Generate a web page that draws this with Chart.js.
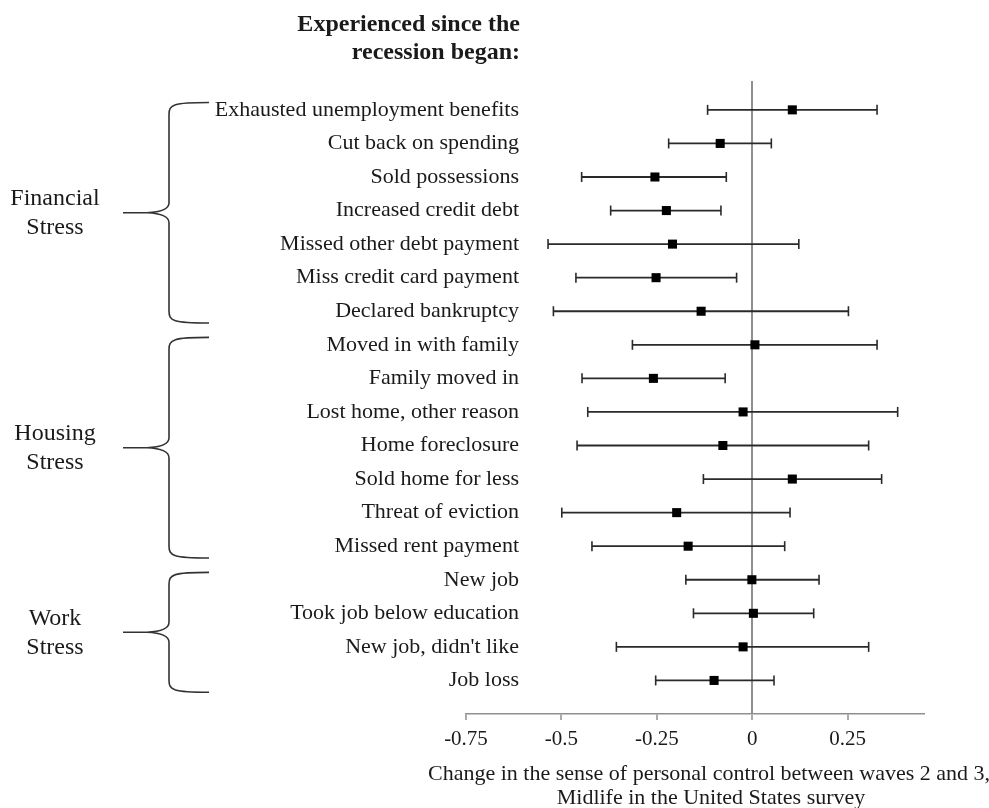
<!DOCTYPE html>
<html>
<head>
<meta charset="utf-8">
<script src="https://cdn.jsdelivr.net/npm/chart.js@4.4.1/dist/chart.umd.min.js"></script>
<style>
  html, body { margin: 0; padding: 0; background: #fff; }
  canvas { display: block; }
</style>
</head>
<body>
<canvas id="chart" width="989" height="808"></canvas>
<script>
const events = [
  'Exhausted unemployment benefits',
  'Cut back on spending',
  'Sold possessions',
  'Increased credit debt',
  'Missed other debt payment',
  'Miss credit card payment',
  'Declared bankruptcy',
  'Moved in with family',
  'Family moved in',
  'Lost home, other reason',
  'Home foreclosure',
  'Sold home for less',
  'Threat of eviction',
  'Missed rent payment',
  'New job',
  'Took job below education',
  "New job, didn't like",
  'Job loss',
];

const estimate = [0.105, -0.084, -0.255, -0.225, -0.209, -0.252, -0.134,
  0.007, -0.259, -0.024, -0.077, 0.105, -0.198, -0.168,
  -0.001, 0.003, -0.024, -0.100];
const lower = [-0.117, -0.219, -0.447, -0.371, -0.535, -0.462, -0.521,
  -0.314, -0.446, -0.431, -0.459, -0.128, -0.499, -0.420,
  -0.174, -0.154, -0.356, -0.253];
const upper = [0.327, 0.050, -0.068, -0.082, 0.122, -0.041, 0.252,
  0.327, -0.071, 0.381, 0.305, 0.339, 0.099, 0.085,
  0.175, 0.161, 0.305, 0.057];

const xTicks = [-0.75, -0.5, -0.25, 0, 0.25];

const groups = [
  { name: ['Financial', 'Stress'], first: 0, last: 6 },
  { name: ['Housing', 'Stress'], first: 7, last: 13 },
  { name: ['Work', 'Stress'], first: 14, last: 17 },
];

const SERIF = '"Liberation Serif", "Times New Roman", serif';
const INK = '#1a1a1a';
const AXIS_GREY = '#8f8f8f';

// one line dataset with a gap after each interval, caps drawn as rotated line points
const intervalPoints = [];
events.forEach((_, i) => {
  intervalPoints.push({ x: lower[i], y: i + 1 });
  intervalPoints.push({ x: upper[i], y: i + 1 });
  intervalPoints.push({ x: 0, y: null });
});

const meanPoints = estimate.map((v, i) => ({ x: v, y: i + 1 }));

const annotations = {
  id: 'annotations',
  afterDraw(chart) {
    const { ctx, scales: { y } } = chart;
    ctx.save();
    ctx.fillStyle = INK;

    // header above the labels
    ctx.font = 'bold 24px ' + SERIF;
    ctx.textAlign = 'right';
    ctx.textBaseline = 'middle';
    ctx.fillText('Experienced since the', 520, 25);
    ctx.fillText('recession began:', 520, 53);

    // braces and group names
    ctx.strokeStyle = '#333';
    ctx.lineWidth = 1.6;
    groups.forEach((g) => {
      const top = y.getPixelForValue(g.first + 1 - 0.22);
      const bottom = y.getPixelForValue(g.last + 1 + 0.35);
      const mid = (top + bottom) / 2;
      const vx = 169;
      const endX = 209;
      const tipX = 123;
      ctx.beginPath();
      ctx.moveTo(endX, top);
      ctx.bezierCurveTo(vx + 4, top, vx, top + 2, vx, top + 12);
      ctx.lineTo(vx, mid - 10);
      ctx.quadraticCurveTo(vx, mid - 1, vx - 22, mid);
      ctx.lineTo(tipX, mid);
      ctx.moveTo(tipX, mid);
      ctx.lineTo(vx - 22, mid);
      ctx.quadraticCurveTo(vx, mid + 1, vx, mid + 10);
      ctx.lineTo(vx, bottom - 12);
      ctx.bezierCurveTo(vx, bottom - 2, vx + 4, bottom, endX, bottom);
      ctx.stroke();

      ctx.font = '24px ' + SERIF;
      ctx.textAlign = 'center';
      ctx.fillText(g.name[0], 55, mid - 14);
      ctx.fillText(g.name[1], 55, mid + 15);
    });

    // x axis title
    ctx.font = '22px ' + SERIF;
    ctx.textAlign = 'center';
    ctx.fillText('Change in the sense of personal control between waves 2 and 3,', 709, 774);
    ctx.fillText('Midlife in the United States survey', 711, 798);
    ctx.restore();
  },
};

new Chart(document.getElementById('chart'), {
  type: 'scatter',
  data: {
    datasets: [
      {
        data: meanPoints,
        pointStyle: 'rect',
        radius: 6.4,
        backgroundColor: '#000',
        borderWidth: 0,
      },
      {
        data: intervalPoints,
        showLine: true,
        borderColor: '#2a2a2a',
        borderWidth: 1.8,
        pointStyle: 'line',
        rotation: 90,
        radius: 5,
        pointBorderColor: '#2a2a2a',
        pointBorderWidth: 1.6,
        spanGaps: false,
      },
    ],
  },
  options: {
    responsive: false,
    animation: false,
    devicePixelRatio: 1,
    layout: { padding: { top: 81, right: 65, left: 0, bottom: 0 } },
    plugins: {
      legend: { display: false },
      tooltip: { enabled: false },
    },
    scales: {
      x: {
        type: 'linear',
        min: -0.75,
        max: 0.45,
        afterBuildTicks: (scale) => {
          scale.ticks = xTicks.map((v) => ({ value: v }));
        },
        afterFit: (scale) => { scale.height = 94; },
        grid: {
          color: (c) => (c.tick && c.tick.value === 0 ? AXIS_GREY : 'rgba(0,0,0,0)'),
          lineWidth: 2,
          drawTicks: true,
          tickLength: 6,
          tickColor: AXIS_GREY,
          tickWidth: 1.5,
        },
        border: { display: true, color: AXIS_GREY, width: 1.5 },
        ticks: {
          autoSkip: false,
          maxRotation: 0,
          padding: 7,
          color: INK,
          font: { family: SERIF, size: 21 },
          callback: (v) => String(v),
        },
      },
      y: {
        type: 'linear',
        reverse: true,
        min: 0.14,
        max: 19,
        afterBuildTicks: (scale) => {
          scale.ticks = events.map((_, i) => ({ value: i + 1 }));
        },
        afterFit: (scale) => {
          scale.width = 466;
          // labels run past the axis into the plot, so don't clip them to the scale box
          scale._computeLabelArea = () => null;
        },
        grid: { display: false },
        border: { display: false },
        ticks: {
          autoSkip: false,
          padding: -61,
          color: INK,
          font: { family: SERIF, size: 22 },
          callback: (v) => events[v - 1],
        },
      },
    },
  },
  plugins: [annotations],
});
</script>
</body>
</html>
